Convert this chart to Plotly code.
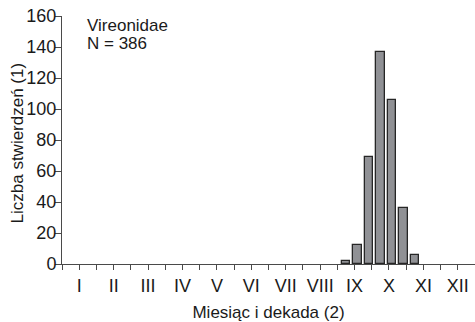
import plotly.graph_objects as go

# Decade index (0 = first decade of January) and number of records per decade
months = ["I", "II", "III", "IV", "V", "VI", "VII", "VIII", "IX", "X", "XI", "XII"]
decades = list(range(36))
counts = [0] * 24 + [2, 12, 69, 137, 106, 36, 6] + [0] * 5

species = "Vireonidae"
n_total = 386

FONT = "Liberation Sans, Arial, sans-serif"
AXIS_COLOR = "#4a4a4a"
TEXT_COLOR = "#1a1a1a"

xs = [d + 0.5 for d, c in zip(decades, counts) if c > 0]
ys = [c for c in counts if c > 0]

fig = go.Figure()
fig.add_trace(go.Bar(
    x=xs,
    y=ys,
    width=0.73,
    offset=-0.365 + 0.26,
    marker=dict(color="#909195", line=dict(color="#262626", width=1.3)),
    showlegend=False,
))

# ticks every half month; labels sit on the mid-month ticks
tickvals = [i * 1.5 for i in range(24)]
ticktext = [months[i // 2] if i % 2 else "" for i in range(24)]

fig.update_xaxes(
    range=[0, 36],
    tickmode="array",
    tickvals=tickvals,
    ticktext=ticktext,
    ticks="outside",
    ticklen=5,
    tickwidth=1,
    tickcolor=AXIS_COLOR,
    showline=True,
    linecolor=AXIS_COLOR,
    linewidth=1,
    showgrid=False,
    zeroline=False,
    tickfont=dict(family=FONT, size=18, color=TEXT_COLOR),
    title=dict(text="Miesiąc i dekada (2)",
               font=dict(family=FONT, size=17, color=TEXT_COLOR),
               standoff=12),
)
fig.update_yaxes(
    range=[0, 160],
    tickmode="array",
    tickvals=list(range(0, 161, 20)),
    ticks="outside",
    ticklen=6,
    tickwidth=1,
    tickcolor=AXIS_COLOR,
    showline=True,
    linecolor=AXIS_COLOR,
    linewidth=1,
    showgrid=False,
    zeroline=False,
    ticklabelstandoff=-5,
    tickfont=dict(family=FONT, size=18, color=TEXT_COLOR),
)

# vertical axis title
fig.add_annotation(x=0, y=0.486, xref="paper", yref="paper",
                   xanchor="center", yanchor="middle", xshift=-45,
                   textangle=-90, showarrow=False,
                   text="Liczba stwierdzeń (1)",
                   font=dict(family=FONT, size=17, color=TEXT_COLOR))

fig.add_annotation(x=0.056, y=0.962, xref="paper", yref="paper",
                   xanchor="left", yanchor="middle", showarrow=False,
                   text=species, font=dict(family=FONT, size=17, color=TEXT_COLOR))
fig.add_annotation(x=0.056, y=0.89, xref="paper", yref="paper",
                   xanchor="left", yanchor="middle", showarrow=False,
                   text=f"N = {n_total}", font=dict(family=FONT, size=17, color=TEXT_COLOR))

fig.update_layout(
    width=475,
    height=322,
    margin=dict(l=62, r=0, t=16, b=58),
    plot_bgcolor="white",
    paper_bgcolor="white",
    bargap=0,
)

fig.write_html("out.html")
